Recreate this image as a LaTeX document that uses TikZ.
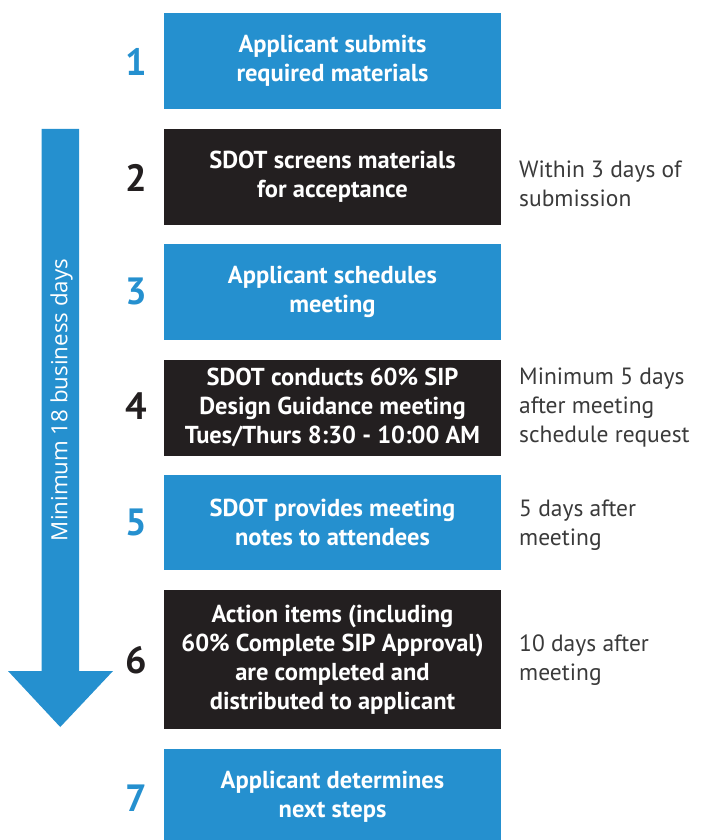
\documentclass[tikz,border=0pt]{standalone}
\usepackage{fontspec}
\setmainfont{PT Sans}
\newfontfamily\sidefont{Open Sans}
\definecolor{sdblue}{HTML}{2590CF}
\definecolor{sddark}{HTML}{231F20}
\definecolor{sdgray}{HTML}{3A3A3A}
\begin{document}
\begin{tikzpicture}[x=1pt,y=-1pt,
  stepbox/.style={minimum width=337pt, inner sep=0pt, align=center, text=white,
    font=\fontsize{24.5}{29}\selectfont\bfseries},
  bluebox/.style={stepbox, fill=sdblue},
  darkbox/.style={stepbox, fill=sddark},
  num/.style={font=\fontsize{38}{38}\selectfont\bfseries, inner sep=0pt},
  note/.style={anchor=west, align=left, inner sep=0pt, text=sdgray,
    font=\fontsize{23.5}{29}\selectfont}]
\useasboundingbox (0,0) rectangle (705,840);
% arrow
\fill[sdblue] (41.5,129) -- (79,129) -- (79,671) -- (113,671) -- (60.25,727) -- (8,671) -- (41.5,671) -- cycle;
\node[rotate=90, text=white, font=\sidefont\fontsize{22.3}{26}\selectfont, inner sep=0pt] (dur) at (61.5,400) {Minimum 18 business days};
% boxes
\node[bluebox, minimum height=95.7pt] (b1) at (332.5,60.8) {Applicant submits\\required materials};
\node[darkbox, minimum height=95.7pt] (b2) at (332.5,176.8) {SDOT screens materials\\for acceptance};
\node[bluebox, minimum height=95.7pt] (b3) at (332.5,291.8) {Applicant schedules\\meeting};
\node[darkbox, minimum height=95.7pt] (b4) at (332.5,407.8) {SDOT conducts 60\% SIP\\Design Guidance meeting\\Tues/Thurs 8:30 - 10:00 AM};
\node[bluebox, minimum height=95.5pt] (b5) at (332.5,522.3) {SDOT provides meeting\\notes to attendees};
\node[darkbox, minimum height=138.7pt] (b6) at (332.5,659.3) {Action items (including\\60\% Complete SIP Approval)\\are completed and\\distributed to applicant};
\node[bluebox, minimum height=95.7pt] (b7) at (332.5,797) {Applicant determines\\next steps};
% numbers
\node[num, text=sdblue] (n1) at (136,62) {1};
\node[num, text=sddark] (n2) at (136,178) {2};
\node[num, text=sdblue] (n3) at (136,291.5) {3};
\node[num, text=sddark] (n4) at (136,406.5) {4};
\node[num, text=sdblue] (n5) at (136,522) {5};
\node[num, text=sddark] (n6) at (136,660) {6};
\node[num, text=sdblue] (n7) at (136,798) {7};
% notes
\node[note] (t2) at (519,184) {Within 3 days of\\submission};
\node[note] (t4) at (519,408) {Minimum 5 days\\after meeting\\schedule request};
\node[note] (t5) at (519,525.5) {5 days after\\meeting};
\node[note] (t6) at (519,660.5) {10 days after\\meeting};
\end{tikzpicture}
\end{document}
